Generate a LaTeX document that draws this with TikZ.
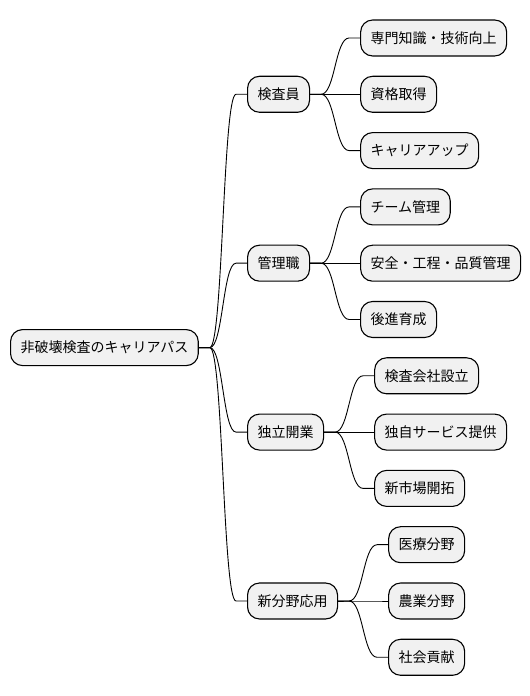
\documentclass[tikz,border=0pt]{standalone}
\usepackage{fontspec}
\setmainfont{Noto Sans CJK JP}
\usetikzlibrary{calc}
\definecolor{nodefill}{HTML}{F1F1F1}
\tikzset{
  mmbox/.style={draw=black, line width=1.1pt, fill=nodefill, rounded corners=12pt,
    inner xsep=10pt, inner ysep=0pt, minimum height=36pt, anchor=west,
    font=\fontsize{14pt}{16pt}\selectfont},
  mmlink/.style={draw=black, line width=0.9pt}
}
\newcommand{\mmconnect}[2]{%
  \draw[mmlink] let \p1=(#1.east), \p2=(#2.west) in
    (\p1) -- (\x1+11pt,\y1)
    .. controls ({(\x1+\x2)/2},\y1) and ({(\x1+\x2)/2},\y2) ..
    (\x2-11pt,\y2) -- (\p2);%
}
\begin{document}
\begin{tikzpicture}[x=1pt,y=1pt]
\useasboundingbox (0,0) rectangle (530,696);
% root
\node[mmbox] (root) at (10,348.4) {非破壊検査のキャリアパス};
% level 1
\node[mmbox] (a) at (247,601.7) {検査員};
\node[mmbox] (b) at (247,432.8) {管理職};
\node[mmbox] (c) at (247,263.9) {独立開業};
\node[mmbox] (d) at (247,95.0) {新分野応用};
% level 2
\node[mmbox] (a1) at (a.east |- 0,658.0) [xshift=50pt] {専門知識・技術向上};
\node[mmbox] (a2) at (a.east |- 0,601.7) [xshift=50pt] {資格取得};
\node[mmbox] (a3) at (a.east |- 0,545.4) [xshift=50pt] {キャリアアップ};
\node[mmbox] (b1) at (b.east |- 0,489.1) [xshift=50pt] {チーム管理};
\node[mmbox] (b2) at (b.east |- 0,432.8) [xshift=50pt] {安全・工程・品質管理};
\node[mmbox] (b3) at (b.east |- 0,376.5) [xshift=50pt] {後進育成};
\node[mmbox] (c1) at (c.east |- 0,320.2) [xshift=50pt] {検査会社設立};
\node[mmbox] (c2) at (c.east |- 0,263.9) [xshift=50pt] {独自サービス提供};
\node[mmbox] (c3) at (c.east |- 0,207.6) [xshift=50pt] {新市場開拓};
\node[mmbox] (d1) at (d.east |- 0,151.3) [xshift=50pt] {医療分野};
\node[mmbox] (d2) at (d.east |- 0,95.0) [xshift=50pt] {農業分野};
\node[mmbox] (d3) at (d.east |- 0,38.7) [xshift=50pt] {社会貢献};
% connectors
\mmconnect{root}{a}
\mmconnect{root}{b}
\mmconnect{root}{c}
\mmconnect{root}{d}
\mmconnect{a}{a1}
\mmconnect{a}{a2}
\mmconnect{a}{a3}
\mmconnect{b}{b1}
\mmconnect{b}{b2}
\mmconnect{b}{b3}
\mmconnect{c}{c1}
\mmconnect{c}{c2}
\mmconnect{c}{c3}
\mmconnect{d}{d1}
\mmconnect{d}{d2}
\mmconnect{d}{d3}
\end{tikzpicture}
\end{document}
